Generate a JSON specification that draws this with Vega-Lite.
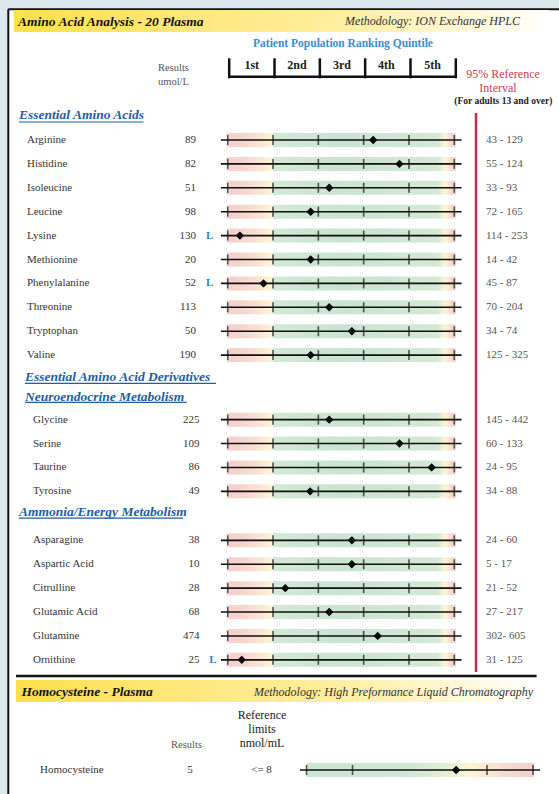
{
 "$schema": "https://vega.github.io/schema/vega-lite/v6.json",
 "width": 559, "height": 794, "padding": 0,
 "autosize": {"type": "none"},
 "background": "#dde7ee",
 "config": {"view": {"stroke": null}, "font": "Liberation Serif", "axis": {"disable": true}, "scale": {"continuousPadding": 0}},
 "datasets": {
  "one": [{}],
  "rows": [
   {"name": "Arginine", "result": "89", "flag": "", "ref": "43 - 129", "pct": 3.21, "row": 1, "sec": 1},
   {"name": "Histidine", "result": "82", "flag": "", "ref": "55 - 124", "pct": 3.79, "row": 2, "sec": 1},
   {"name": "Isoleucine", "result": "51", "flag": "", "ref": "33 - 93", "pct": 2.24, "row": 3, "sec": 1},
   {"name": "Leucine", "result": "98", "flag": "", "ref": "72 - 165", "pct": 1.83, "row": 4, "sec": 1},
   {"name": "Lysine", "result": "130", "flag": "L", "ref": "114 - 253", "pct": 0.27, "row": 5, "sec": 1},
   {"name": "Methionine", "result": "20", "flag": "", "ref": "14 - 42", "pct": 1.83, "row": 6, "sec": 1},
   {"name": "Phenylalanine", "result": "52", "flag": "L", "ref": "45 - 87", "pct": 0.79, "row": 7, "sec": 1},
   {"name": "Threonine", "result": "113", "flag": "", "ref": "70 - 204", "pct": 2.24, "row": 8, "sec": 1},
   {"name": "Tryptophan", "result": "50", "flag": "", "ref": "34 - 74", "pct": 2.74, "row": 9, "sec": 1},
   {"name": "Valine", "result": "190", "flag": "", "ref": "125 - 325", "pct": 1.83, "row": 10, "sec": 1},
   {"name": "Glycine", "result": "225", "flag": "", "ref": "145 - 442", "pct": 2.24, "row": 12.7, "sec": 2},
   {"name": "Serine", "result": "109", "flag": "", "ref": "60 - 133", "pct": 3.79, "row": 13.7, "sec": 2},
   {"name": "Taurine", "result": "86", "flag": "", "ref": "24 - 95", "pct": 4.5, "row": 14.7, "sec": 2},
   {"name": "Tyrosine", "result": "49", "flag": "", "ref": "34 - 88", "pct": 1.82, "row": 15.7, "sec": 2},
   {"name": "Asparagine", "result": "38", "flag": "", "ref": "24 - 60", "pct": 2.74, "row": 17.75, "sec": 3},
   {"name": "Aspartic Acid", "result": "10", "flag": "", "ref": "5 - 17", "pct": 2.74, "row": 18.75, "sec": 3},
   {"name": "Citrulline", "result": "28", "flag": "", "ref": "21 - 52", "pct": 1.27, "row": 19.75, "sec": 3},
   {"name": "Glutamic Acid", "result": "68", "flag": "", "ref": "27 - 217", "pct": 2.24, "row": 20.75, "sec": 3},
   {"name": "Glutamine", "result": "474", "flag": "", "ref": "302- 605", "pct": 3.31, "row": 21.75, "sec": 3},
   {"name": "Ornithine", "result": "25", "flag": "L", "ref": "31 - 125", "pct": 0.31, "row": 22.75, "sec": 3}
  ],
  "quint": [{"label": "1st", "mid": 0.53}, {"label": "2nd", "mid": 1.53}, {"label": "3rd", "mid": 2.52}, {"label": "4th", "mid": 3.5}, {"label": "5th", "mid": 4.52}],
  "bounds": [{"b": 0}, {"b": 1}, {"b": 2}, {"b": 3}, {"b": 4}, {"b": 5}],
  "homo": [{"name": "Homocysteine", "result": "5", "ref": "<= 8", "pct": 5.04, "row": 27.36}],
  "homoTicks": [{"q": 1.739}, {"q": 2.754}, {"q": 5.722}, {"q": 6.737}]
 },
 "layer": [
  {"data": {"name": "one"}, "mark": {"type": "rect", "fill": "#ffffff"},
   "encoding": {
    "x": {"datum": -4.841, "type": "quantitative", "scale": {"domain": [-5.024, 7.31], "nice": false, "zero": false, "padding": 0}},
    "x2": {"datum": 7.31},
    "y": {"datum": -4.473, "type": "quantitative", "scale": {"domain": [-4.858, 28.364], "nice": false, "zero": false, "reverse": true, "padding": 0}},
    "y2": {"datum": 28.364}}},
  {"data": {"name": "one"}, "mark": {"type": "rule", "strokeWidth": 2, "color": "#111111"},
   "encoding": {"x": {"datum": -4.841}, "y": {"datum": -4.473}, "y2": {"datum": 28.364}}},
  {"data": {"name": "one"}, "mark": {"type": "rule", "strokeWidth": 2, "color": "#111111"},
   "encoding": {"x": {"datum": -4.841}, "x2": {"datum": 7.31}, "y": {"datum": -4.473}}},
  {"data": {"name": "one"}, "mark": {"type": "rect", "color": {"gradient": "linear", "x1": 0, "y1": 0, "x2": 1, "y2": 0, "stops": [{"offset": 0, "color": "#fde04a"}, {"offset": 0.3, "color": "#fee778"}, {"offset": 0.6, "color": "#feee9e"}, {"offset": 0.85, "color": "#fff8d8"}, {"offset": 1, "color": "#ffffff"}]}},
   "encoding": {"x": {"datum": -4.72}, "x2": {"datum": 7.1}, "y": {"datum": -4.44}, "y2": {"datum": -3.52}}},
  {"data": {"name": "one"}, "mark": {"type": "text", "text": "Amino Acid Analysis - 20 Plasma", "align": "left", "baseline": "middle", "fontSize": 13.5, "fontWeight": "bold", "fontStyle": "italic", "color": "#111111"},
   "encoding": {"x": {"datum": -4.627}, "y": {"datum": -3.937}}},
  {"data": {"name": "one"}, "mark": {"type": "text", "text": "Methodology:  ION Exchange HPLC", "align": "right", "baseline": "middle", "fontSize": 12, "fontStyle": "italic", "color": "#333333"},
   "encoding": {"x": {"datum": 6.45}, "y": {"datum": -3.979}}},
  {"data": {"name": "one"}, "mark": {"type": "text", "text": "Patient Population Ranking Quintile", "align": "center", "baseline": "middle", "fontSize": 11.5, "fontWeight": "bold", "color": "#3a8dd4"},
   "encoding": {"x": {"datum": 2.544}, "y": {"datum": -3.017}}},
  {"data": {"name": "bounds"}, "mark": {"type": "rule", "strokeWidth": 2.5, "color": "#111111", "xOffset": 1.5},
   "encoding": {"x": {"field": "b", "type": "quantitative"}, "y": {"datum": -2.418}, "y2": {"datum": -1.582}}},
  {"data": {"name": "one"}, "mark": {"type": "rule", "strokeWidth": 2.5, "color": "#111111", "xOffset": 1.5, "x2Offset": 1.5},
   "encoding": {"x": {"datum": 0}, "x2": {"datum": 5}, "y": {"datum": -1.649}}},
  {"data": {"name": "quint"}, "mark": {"type": "text", "align": "center", "baseline": "middle", "fontSize": 12, "fontWeight": "bold", "color": "#222222"},
   "encoding": {"x": {"field": "mid", "type": "quantitative"}, "y": {"datum": -2.138}, "text": {"field": "label"}}},
  {"data": {"name": "one"}, "mark": {"type": "text", "text": "Results", "align": "left", "baseline": "middle", "fontSize": 10.5, "color": "#555555"},
   "encoding": {"x": {"datum": -1.538}, "y": {"datum": -2.013}}},
  {"data": {"name": "one"}, "mark": {"type": "text", "text": "umol/L", "align": "left", "baseline": "middle", "fontSize": 10.5, "color": "#555555"},
   "encoding": {"x": {"datum": -1.538}, "y": {"datum": -1.427}}},
  {"data": {"name": "one"}, "mark": {"type": "text", "text": "95% Reference", "align": "center", "baseline": "middle", "fontSize": 12, "color": "#d13a5a"},
   "encoding": {"x": {"datum": 6.075}, "y": {"datum": -1.762}}},
  {"data": {"name": "one"}, "mark": {"type": "text", "text": "Interval", "align": "center", "baseline": "middle", "fontSize": 12, "color": "#d13a5a"},
   "encoding": {"x": {"datum": 5.964}, "y": {"datum": -1.176}}},
  {"data": {"name": "one"}, "mark": {"type": "text", "text": "(For adults 13 and over)", "align": "center", "baseline": "middle", "fontSize": 9.5, "fontWeight": "bold", "color": "#222222"},
   "encoding": {"x": {"datum": 6.081}, "y": {"datum": -0.632}}},
  {"data": {"name": "one"}, "mark": {"type": "rule", "strokeWidth": 2.5, "color": "#d0264f"},
   "encoding": {"x": {"datum": 5.479}, "y": {"datum": -0.13}, "y2": {"datum": 23.26}}},
  {"data": {"name": "one"}, "mark": {"type": "text", "text": "Essential Amino Acids", "align": "left", "baseline": "middle", "fontSize": 13.5, "fontWeight": "bold", "fontStyle": "italic", "color": "#1d5ea8"},
   "encoding": {"x": {"datum": -4.605}, "y": {"datum": -0.046}}},
  {"data": {"name": "one"}, "mark": {"type": "rule", "strokeWidth": 1.2, "color": "#1d5ea8"},
   "encoding": {"x": {"datum": -4.605}, "x2": {"datum": -1.858}, "y": {"datum": 0.247}}},
  {"data": {"name": "one"}, "mark": {"type": "text", "text": "Essential Amino Acid Derivatives", "align": "left", "baseline": "middle", "fontSize": 13.5, "fontWeight": "bold", "fontStyle": "italic", "color": "#1d5ea8"},
   "encoding": {"x": {"datum": -4.473}, "y": {"datum": 10.916}}},
  {"data": {"name": "one"}, "mark": {"type": "rule", "strokeWidth": 1.2, "color": "#1d5ea8"},
   "encoding": {"x": {"datum": -4.473}, "x2": {"datum": -0.258}, "y": {"datum": 11.18}}},
  {"data": {"name": "one"}, "mark": {"type": "text", "text": "Neuroendocrine Metabolism", "align": "left", "baseline": "middle", "fontSize": 13.5, "fontWeight": "bold", "fontStyle": "italic", "color": "#1d5ea8"},
   "encoding": {"x": {"datum": -4.473}, "y": {"datum": 11.753}}},
  {"data": {"name": "one"}, "mark": {"type": "rule", "strokeWidth": 1.2, "color": "#1d5ea8"},
   "encoding": {"x": {"datum": -4.473}, "x2": {"datum": -0.905}, "y": {"datum": 11.975}}},
  {"data": {"name": "one"}, "mark": {"type": "text", "text": "Ammonia/Energy Metabolism", "align": "left", "baseline": "middle", "fontSize": 13.5, "fontWeight": "bold", "fontStyle": "italic", "color": "#1d5ea8"},
   "encoding": {"x": {"datum": -4.605}, "y": {"datum": 16.565}}},
  {"data": {"name": "one"}, "mark": {"type": "rule", "strokeWidth": 1.2, "color": "#1d5ea8"},
   "encoding": {"x": {"datum": -4.605}, "x2": {"datum": -0.986}, "y": {"datum": 16.82}}},
  {"data": {"name": "rows"}, "mark": {"type": "bar", "size": 14, "color": {"gradient": "linear", "x1": 0, "y1": 0, "x2": 1, "y2": 0, "stops": [{"offset": 0, "color": "#f6cfcb"}, {"offset": 0.07, "color": "#f7d5cf"}, {"offset": 0.14, "color": "#fae3d1"}, {"offset": 0.195, "color": "#fdf4d4"}, {"offset": 0.205, "color": "#d2e9d6"}, {"offset": 0.5, "color": "#c9e4d1"}, {"offset": 0.92, "color": "#d3e9d6"}, {"offset": 0.955, "color": "#fcf5d4"}, {"offset": 0.985, "color": "#f7d5cf"}, {"offset": 1, "color": "#f6cfcb"}]}},
   "encoding": {"x": {"datum": -0.015}, "x2": {"datum": 5.03}, "y": {"field": "row", "type": "quantitative"}}},
  {"data": {"name": "rows"}, "mark": {"type": "rule", "strokeWidth": 1.6, "color": "#111111"},
   "encoding": {"x": {"datum": -0.15}, "x2": {"datum": 5.16}, "y": {"field": "row", "type": "quantitative"}}},
  {"data": {"name": "rows"}, "mark": {"type": "tick", "orient": "vertical", "size": 10, "thickness": 1.6, "color": "#111111"},
   "encoding": {"x": {"datum": 0}, "y": {"field": "row", "type": "quantitative"}}},
  {"data": {"name": "rows"}, "mark": {"type": "tick", "orient": "vertical", "size": 10, "thickness": 1.6, "color": "#111111"},
   "encoding": {"x": {"datum": 1}, "y": {"field": "row", "type": "quantitative"}}},
  {"data": {"name": "rows"}, "mark": {"type": "tick", "orient": "vertical", "size": 10, "thickness": 1.6, "color": "#111111"},
   "encoding": {"x": {"datum": 2}, "y": {"field": "row", "type": "quantitative"}}},
  {"data": {"name": "rows"}, "mark": {"type": "tick", "orient": "vertical", "size": 10, "thickness": 1.6, "color": "#111111"},
   "encoding": {"x": {"datum": 3}, "y": {"field": "row", "type": "quantitative"}}},
  {"data": {"name": "rows"}, "mark": {"type": "tick", "orient": "vertical", "size": 10, "thickness": 1.6, "color": "#111111"},
   "encoding": {"x": {"datum": 4}, "y": {"field": "row", "type": "quantitative"}}},
  {"data": {"name": "rows"}, "mark": {"type": "tick", "orient": "vertical", "size": 10, "thickness": 1.6, "color": "#111111"},
   "encoding": {"x": {"datum": 5}, "y": {"field": "row", "type": "quantitative"}}},
  {"data": {"name": "rows"}, "mark": {"type": "point", "shape": "diamond", "filled": true, "size": 70, "color": "#000000", "opacity": 1},
   "encoding": {"x": {"field": "pct", "type": "quantitative"}, "y": {"field": "row", "type": "quantitative"}}},
  {"data": {"name": "rows"}, "transform": [{"filter": "datum.sec == 1"}], "mark": {"type": "text", "align": "left", "baseline": "middle", "fontSize": 11, "color": "#333333"},
   "encoding": {"x": {"datum": -4.429}, "y": {"field": "row", "type": "quantitative"}, "text": {"field": "name"}}},
  {"data": {"name": "rows"}, "transform": [{"filter": "datum.sec > 1"}], "mark": {"type": "text", "align": "left", "baseline": "middle", "fontSize": 11, "color": "#333333"},
   "encoding": {"x": {"datum": -4.296}, "y": {"field": "row", "type": "quantitative"}, "text": {"field": "name"}}},
  {"data": {"name": "rows"}, "transform": [{"filter": "datum.sec == 1"}], "mark": {"type": "text", "align": "right", "baseline": "middle", "fontSize": 11, "color": "#333333"},
   "encoding": {"x": {"datum": -0.699}, "y": {"field": "row", "type": "quantitative"}, "text": {"field": "result"}}},
  {"data": {"name": "rows"}, "transform": [{"filter": "datum.sec > 1"}], "mark": {"type": "text", "align": "right", "baseline": "middle", "fontSize": 11, "color": "#333333"},
   "encoding": {"x": {"datum": -0.622}, "y": {"field": "row", "type": "quantitative"}, "text": {"field": "result"}}},
  {"data": {"name": "rows"}, "transform": [{"filter": "datum.sec == 1 && datum.flag != ''"}], "mark": {"type": "text", "align": "center", "baseline": "middle", "fontSize": 11, "fontWeight": "bold", "color": "#2f7fc8"},
   "encoding": {"x": {"datum": -0.4}, "y": {"field": "row", "type": "quantitative"}, "text": {"field": "flag"}}},
  {"data": {"name": "rows"}, "transform": [{"filter": "datum.sec > 1 && datum.flag != ''"}], "mark": {"type": "text", "align": "center", "baseline": "middle", "fontSize": 11, "fontWeight": "bold", "color": "#2f7fc8"},
   "encoding": {"x": {"datum": -0.324}, "y": {"field": "row", "type": "quantitative"}, "text": {"field": "flag"}}},
  {"data": {"name": "rows"}, "mark": {"type": "text", "align": "left", "baseline": "middle", "fontSize": 11, "color": "#555555"},
   "encoding": {"x": {"datum": 5.7}, "y": {"field": "row", "type": "quantitative"}, "text": {"field": "ref"}}},
  {"data": {"name": "one"}, "mark": {"type": "rule", "strokeWidth": 2.5, "color": "#111111"},
   "encoding": {"x": {"datum": -4.671}, "x2": {"datum": 6.816}, "y": {"datum": 23.427}}},
  {"data": {"name": "one"}, "mark": {"type": "rect", "color": {"gradient": "linear", "x1": 0, "y1": 0, "x2": 1, "y2": 0, "stops": [{"offset": 0, "color": "#fde04a"}, {"offset": 0.3, "color": "#fee778"}, {"offset": 0.6, "color": "#feee9e"}, {"offset": 0.85, "color": "#fff8d8"}, {"offset": 1, "color": "#ffffff"}]}},
   "encoding": {"x": {"datum": -4.671}, "x2": {"datum": 6.816}, "y": {"datum": 23.594}, "y2": {"datum": 24.514}}},
  {"data": {"name": "one"}, "mark": {"type": "text", "text": "Homocysteine - Plasma", "align": "left", "baseline": "middle", "fontSize": 13.5, "fontWeight": "bold", "fontStyle": "italic", "color": "#111111"},
   "encoding": {"x": {"datum": -4.55}, "y": {"datum": 24.096}}},
  {"data": {"name": "one"}, "mark": {"type": "text", "text": "Methodology:  High Preformance Liquid Chromatography", "align": "right", "baseline": "middle", "fontSize": 12, "fontStyle": "italic", "color": "#333333"},
   "encoding": {"x": {"datum": 6.737}, "y": {"datum": 24.096}}},
  {"data": {"name": "one"}, "mark": {"type": "text", "text": "Reference", "align": "center", "baseline": "middle", "fontSize": 12, "color": "#222222"},
   "encoding": {"x": {"datum": 0.757}, "y": {"datum": 25.04}}},
  {"data": {"name": "one"}, "mark": {"type": "text", "text": "limits", "align": "center", "baseline": "middle", "fontSize": 12, "color": "#222222"},
   "encoding": {"x": {"datum": 0.757}, "y": {"datum": 25.64}}},
  {"data": {"name": "one"}, "mark": {"type": "text", "text": "nmol/mL", "align": "center", "baseline": "middle", "fontSize": 12, "color": "#222222"},
   "encoding": {"x": {"datum": 0.757}, "y": {"datum": 26.21}}},
  {"data": {"name": "one"}, "mark": {"type": "text", "text": "Results", "align": "center", "baseline": "middle", "fontSize": 10.5, "color": "#555555"},
   "encoding": {"x": {"datum": -0.909}, "y": {"datum": 26.31}}},
  {"data": {"name": "homo"}, "mark": {"type": "bar", "size": 14, "color": {"gradient": "linear", "x1": 0, "y1": 0, "x2": 1, "y2": 0, "stops": [{"offset": 0, "color": "#cbe6d3"}, {"offset": 0.45, "color": "#cfe7d4"}, {"offset": 0.6, "color": "#e2eed5"}, {"offset": 0.72, "color": "#fcf5d3"}, {"offset": 0.82, "color": "#fbe4d1"}, {"offset": 0.92, "color": "#f7d5cf"}, {"offset": 1, "color": "#f6cfcb"}]}},
   "encoding": {"x": {"datum": 1.739}, "x2": {"datum": 6.759}, "y": {"field": "row", "type": "quantitative"}}},
  {"data": {"name": "homo"}, "mark": {"type": "rule", "strokeWidth": 1.6, "color": "#111111"},
   "encoding": {"x": {"datum": 1.595}, "x2": {"datum": 6.891}, "y": {"field": "row", "type": "quantitative"}}},
  {"data": {"name": "homoTicks"}, "mark": {"type": "tick", "orient": "vertical", "size": 10, "thickness": 1.6, "color": "#111111"},
   "encoding": {"x": {"field": "q", "type": "quantitative"}, "y": {"datum": 27.36}}},
  {"data": {"name": "homo"}, "mark": {"type": "point", "shape": "diamond", "filled": true, "size": 70, "color": "#000000", "opacity": 1},
   "encoding": {"x": {"field": "pct", "type": "quantitative"}, "y": {"field": "row", "type": "quantitative"}}},
  {"data": {"name": "homo"}, "mark": {"type": "text", "align": "left", "baseline": "middle", "fontSize": 11, "color": "#333333"},
   "encoding": {"x": {"datum": -4.14}, "y": {"field": "row", "type": "quantitative"}, "text": {"field": "name"}}},
  {"data": {"name": "homo"}, "mark": {"type": "text", "align": "center", "baseline": "middle", "fontSize": 11, "color": "#333333"},
   "encoding": {"x": {"datum": -0.832}, "y": {"field": "row", "type": "quantitative"}, "text": {"field": "result"}}},
  {"data": {"name": "homo"}, "mark": {"type": "text", "align": "center", "baseline": "middle", "fontSize": 11, "color": "#333333"},
   "encoding": {"x": {"datum": 0.746}, "y": {"field": "row", "type": "quantitative"}, "text": {"field": "ref"}}}
 ]
}
